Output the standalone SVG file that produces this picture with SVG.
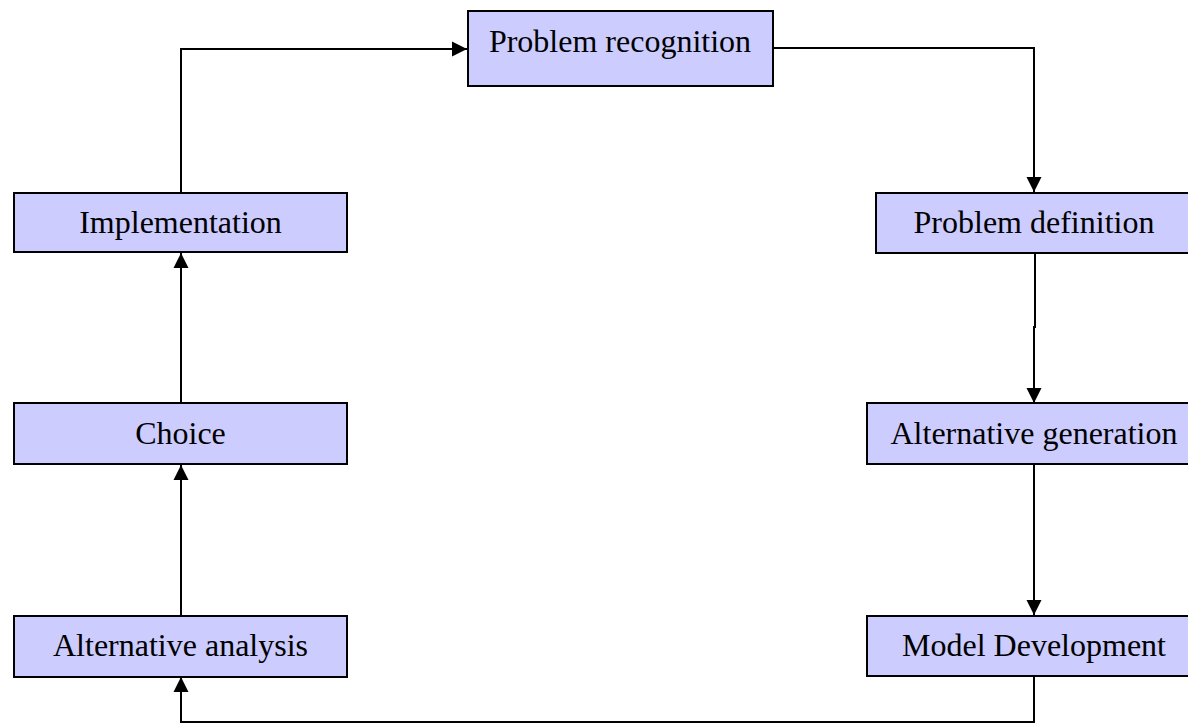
<svg xmlns="http://www.w3.org/2000/svg" width="1188" height="724" viewBox="0 0 1188 724">
<style>
.box{fill:#ccccff;stroke:#000;stroke-width:2}
.lbl{font-family:"Liberation Serif","Times New Roman",serif;font-size:32px;fill:#000;text-anchor:middle}
.edge{fill:none;stroke:#000;stroke-width:2}
</style>
<defs>
<marker id="arr" markerUnits="userSpaceOnUse" markerWidth="16" markerHeight="16" viewBox="0 0 16 16" refX="15" refY="8" orient="auto">
<path d="M0,0.5 L15,8 L0,15.5 Z" fill="#000"/>
</marker>
</defs>
<rect width="1188" height="724" fill="#fff"/>
<g id="connectors">
<path class="edge" d="M773,48 H1034 V192" marker-end="url(#arr)"/>
<path class="edge" d="M1035,253 V327 H1034 V403" marker-end="url(#arr)"/>
<path class="edge" d="M1034,464 V615" marker-end="url(#arr)"/>
<path class="edge" d="M1034,676 V722 H181 V677" marker-end="url(#arr)"/>
<path class="edge" d="M181,616 V465" marker-end="url(#arr)"/>
<path class="edge" d="M181,403 V253" marker-end="url(#arr)"/>
<path class="edge" d="M181,193 V49 H467" marker-end="url(#arr)"/>
</g>
<g id="problem-recognition">
<rect class="box" x="468" y="11" width="305" height="75"/>
<text class="lbl" x="620" y="52">Problem recognition</text>
</g>
<g id="problem-definition">
<rect class="box" x="876" y="193" width="330" height="60"/>
<text class="lbl" x="1034" y="233">Problem definition</text>
</g>
<g id="alternative-generation">
<rect class="box" x="867" y="403" width="340" height="61"/>
<text class="lbl" x="1034" y="444">Alternative generation</text>
</g>
<g id="model-development">
<rect class="box" x="867" y="616" width="340" height="60"/>
<text class="lbl" x="1034" y="656">Model Development</text>
</g>
<g id="alternative-analysis">
<rect class="box" x="14" y="616" width="333" height="61"/>
<text class="lbl" x="180.5" y="656">Alternative analysis</text>
</g>
<g id="choice">
<rect class="box" x="14" y="403" width="333" height="61"/>
<text class="lbl" x="180.5" y="444">Choice</text>
</g>
<g id="implementation">
<rect class="box" x="14" y="193" width="333" height="59"/>
<text class="lbl" x="180.5" y="233">Implementation</text>
</g>
</svg>
